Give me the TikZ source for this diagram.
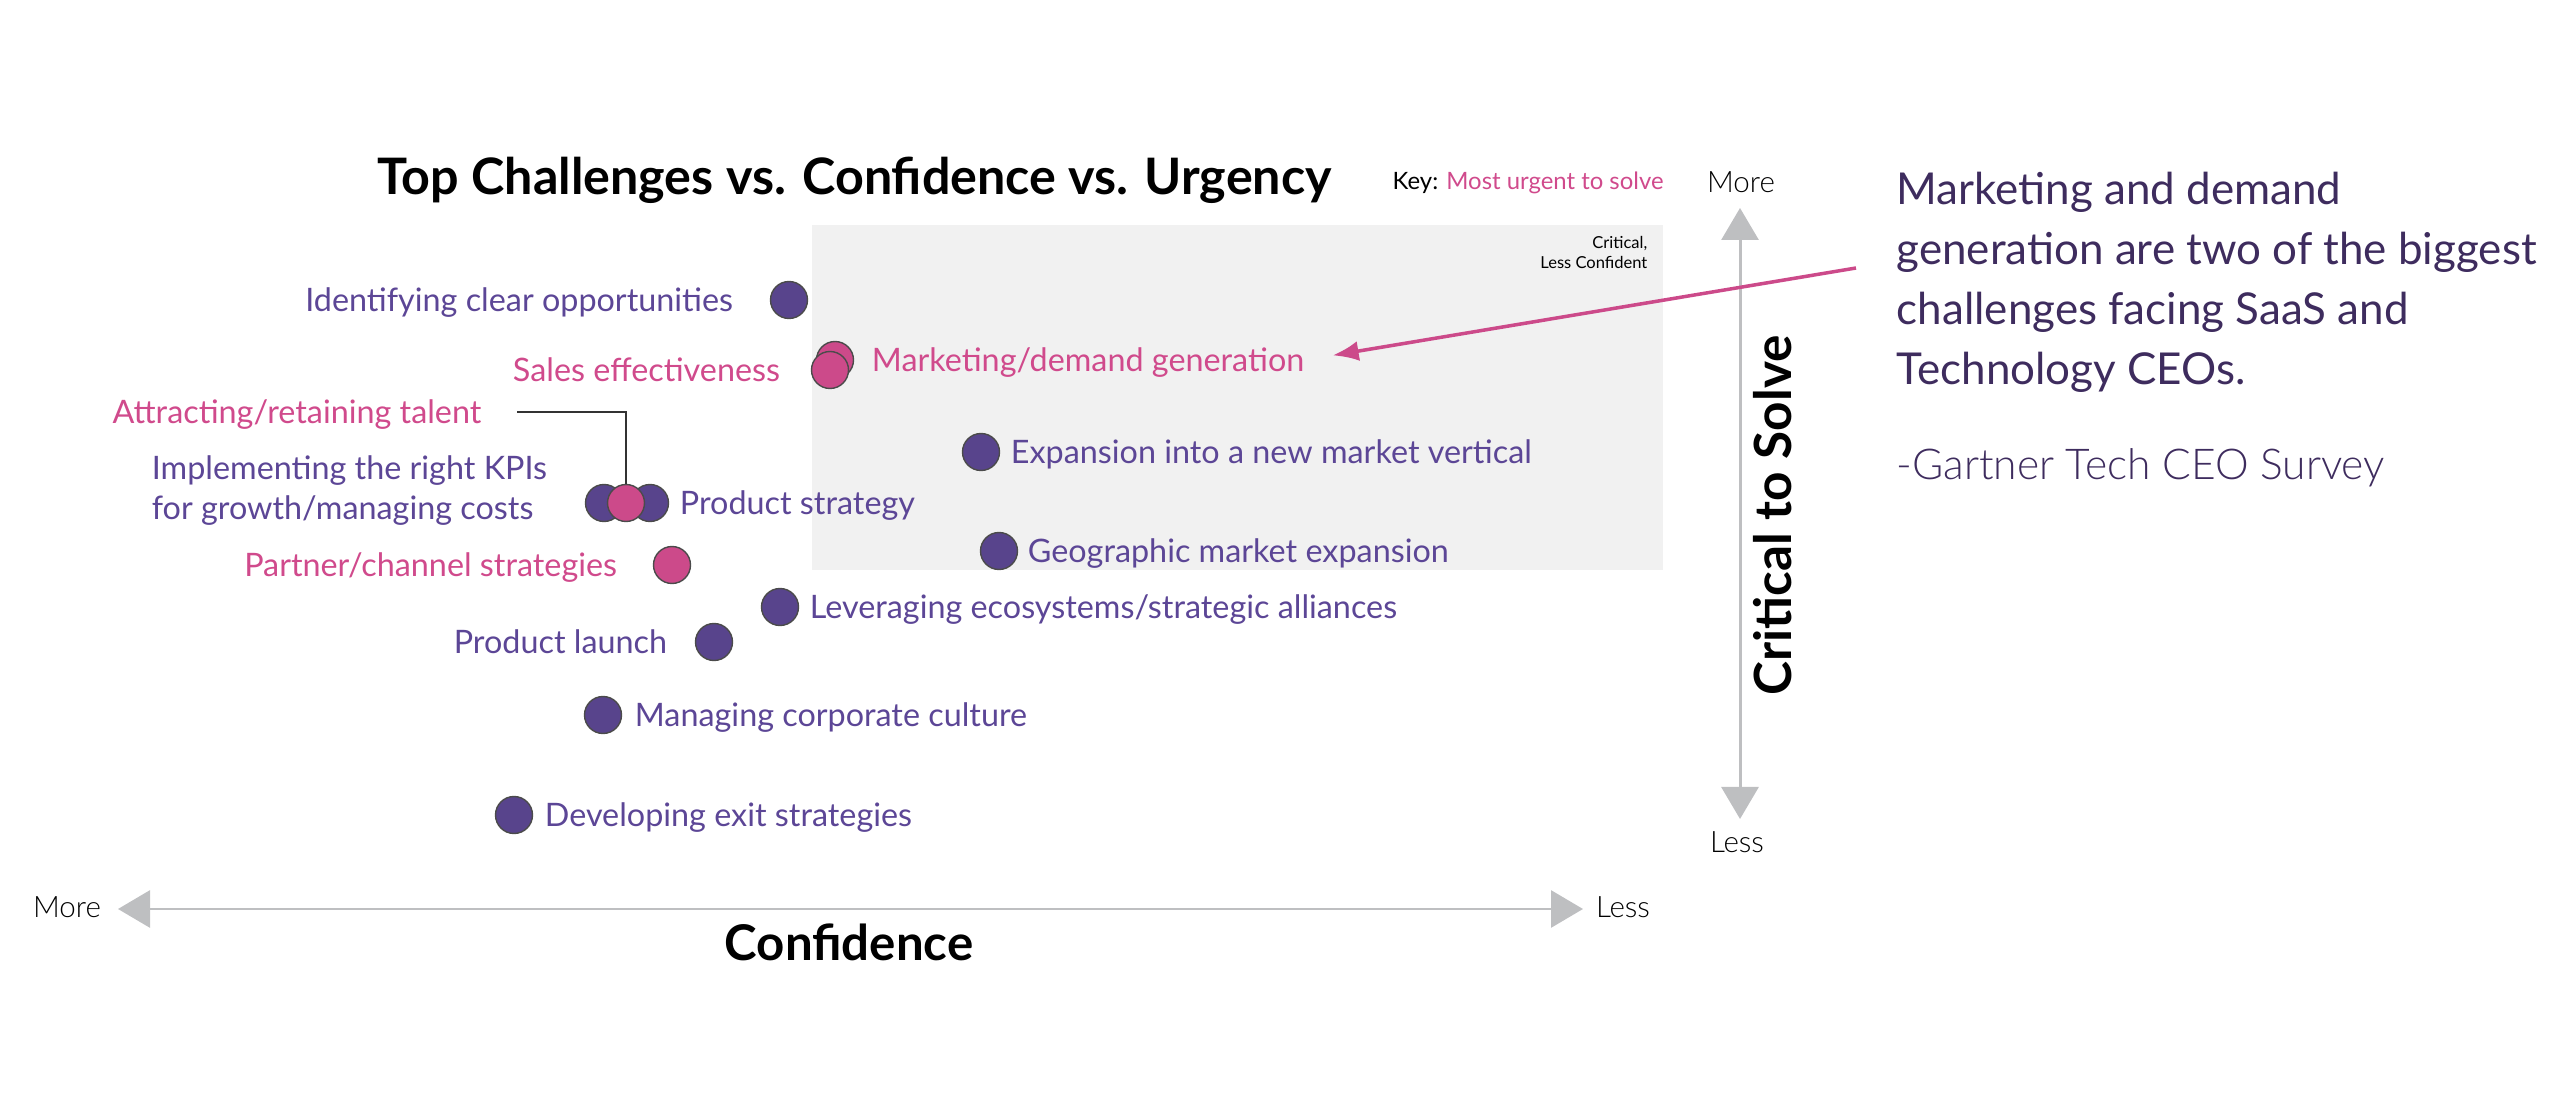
\documentclass[tikz,border=0pt]{standalone}
\usepackage{fontspec}
\setmainfont{Lato}
\newfontfamily\lightfont{Lato Light}
\usetikzlibrary{positioning,arrows.meta}
\definecolor{dotpurple}{RGB}{88,68,140}
\definecolor{dotpink}{RGB}{204,74,138}
\definecolor{labpurple}{RGB}{92,70,150}
\definecolor{labpink}{RGB}{208,74,140}
\definecolor{quoteink}{RGB}{62,44,94}
\definecolor{axisgray}{RGB}{190,191,193}
\definecolor{boxgray}{RGB}{241,241,241}
\definecolor{dotline}{RGB}{75,75,75}
\def\tip{Triangle[length=0.32cm,width=0.37cm]}
\tikzset{
    dot/.style={circle,minimum size=0.37cm,inner sep=0pt,draw=dotline,line width=0.4pt,fill=dotpurple},
    hotdot/.style={dot,fill=dotpink},
    lab/.style={font=\fontsize{9.2}{11.4}\selectfont,text=labpurple,inner sep=0pt,text height=0.23cm,text depth=0pt},
    hotlab/.style={lab,text=labpink},
    axis/.style={draw=axisgray,line width=0.85pt,{\tip}-{\tip},axisgray},
    ends/.style={font=\lightfont\fontsize{8.4}{9}\selectfont,inner sep=0pt,text height=0.18cm,text depth=0pt},
    axistitle/.style={font=\bfseries\fontsize{14}{16}\selectfont,inner sep=0pt,text height=0.34cm,text depth=0pt}
}
\begin{document}
\begin{tikzpicture}
    \useasboundingbox (0,0) rectangle (25.6,11.11);
    \fill[boxgray] (8.12,8.86) rectangle (16.63,5.41);
    \node[font=\fontsize{4.7}{5.7}\selectfont,align=right,anchor=north east,inner sep=0pt,text height=0.11cm] (crit) at (16.48,8.54) {Critical,\\Less Confident};
    \node[font=\bfseries\fontsize{14.3}{16}\selectfont,anchor=west,inner sep=0pt,text height=0.35cm,text depth=0pt] (title) at (3.77,9.335) {Top Challenges vs. Confidence vs. Urgency};
    \node[font=\fontsize{6.8}{8}\selectfont,anchor=west,inner sep=0pt,text height=0.15cm,text depth=0pt] (key) at (13.92,9.29) {Key: \textcolor{labpink}{Most urgent to solve}};

    \coordinate (vtop) at (17.40,9.03);
    \coordinate (vbot) at (17.40,2.92);
    \coordinate (hleft) at (1.18,2.02);
    \coordinate (hright) at (15.83,2.02);
    \draw[axis] (vbot) -- (vtop);
    \draw[axis] (hright) -- (hleft);
    \node[ends] (vmore) at (17.41,9.27) {More};
    \node[ends] (vless) at (17.37,2.67) {Less};
    \node[ends] (hmore) at (0.67,2.02) {More};
    \node[ends] (hless) at (16.23,2.02) {Less};
    \node[axistitle,font=\bfseries\fontsize{14.6}{16}\selectfont,rotate=90] (ylab) at (17.745,5.955) {Critical to Solve};
    \node[axistitle] (xlab) at (8.49,1.675) {Confidence};

    \node[dot] (ident) at (7.89,8.11) {};
    \node[hotdot] (mkt) at (8.35,7.51) {};
    \node[hotdot] (sales) at (8.30,7.41) {};
    \node[dot] (kpi) at (6.04,6.08) {};
    \node[dot] (prod) at (6.50,6.08) {};
    \node[hotdot] (talent) at (6.26,6.08) {};
    \node[hotdot] (partner) at (6.72,5.46) {};
    \node[dot] (vert) at (9.81,6.59) {};
    \node[dot] (geo) at (9.99,5.60) {};
    \node[dot] (eco) at (7.80,5.04) {};
    \node[dot] (launch) at (7.14,4.69) {};
    \node[dot] (culture) at (6.03,3.96) {};
    \node[dot] (exit) at (5.14,2.96) {};

    \node[lab,left=0.36cm of ident] (identl) {Identifying clear opportunities};
    \node[hotlab,right=0.17cm of mkt] (mktl) {Marketing/demand generation};
    \node[hotlab,left=0.30cm of sales] (salesl) {Sales effectiveness};
    \node[lab,align=left,left=0.37cm of kpi,yshift=-0.05cm] (kpil) {Implementing the right KPIs\\for growth/managing costs};
    \node[lab,right=0.10cm of prod] (prodl) {Product strategy};
    \node[hotlab,left=0.35cm of partner] (partnerl) {Partner/channel strategies};
    \node[lab,right=0.10cm of vert] (vertl) {Expansion into a new market vertical};
    \node[lab,right=0.09cm of geo] (geol) {Geographic market expansion};
    \node[lab,right=0.10cm of eco] (ecol) {Leveraging ecosystems/strategic alliances};
    \node[lab,left=0.27cm of launch] (launchl) {Product launch};
    \node[lab,right=0.12cm of culture] (culturel) {Managing corporate culture};
    \node[lab,right=0.11cm of exit] (exitl) {Developing exit strategies};
    \node[hotlab,anchor=west] (talentl) at (1.12,6.99) {Attracting/retaining talent};
    \draw[draw=black!80,line width=0.55pt] ([xshift=0.35cm]talentl.east) -| (talent.north);

    \node[font=\fontsize{12.5}{17.07}\selectfont,text=quoteink,align=left,anchor=north west,inner sep=0pt,text height=0.31cm] (quote) at (18.96,7.58) {Marketing and demand\\generation are two of the biggest\\challenges facing SaaS and\\Technology CEOs.};
    \node[font=\lightfont\fontsize{12.1}{14}\selectfont,text=quoteink,anchor=west,inner sep=0pt,text height=0.30cm,text depth=0pt] (src) at (18.96,6.46) {-Gartner Tech CEO Survey};
    \coordinate (qstart) at (18.56,8.43);
    \draw[draw=dotpink,line width=1pt,-{Latex[length=0.26cm,width=0.2cm]},shorten >=0.28cm] (qstart) -- (mktl.east);
\end{tikzpicture}
\end{document}
